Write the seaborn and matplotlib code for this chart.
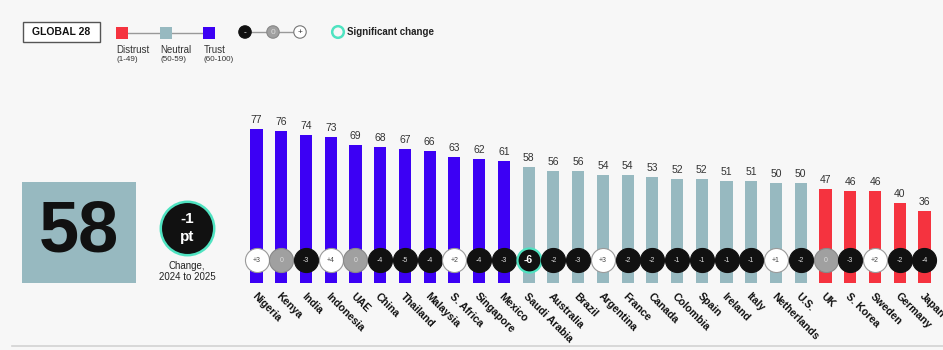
import matplotlib
matplotlib.use("Agg")
import matplotlib.pyplot as plt
from matplotlib.patches import Rectangle
from matplotlib.lines import Line2D
import seaborn as sns
import pandas as pd

countries = ["Nigeria", "Kenya", "India", "Indonesia", "UAE", "China", "Thailand",
             "Malaysia", "S. Africa", "Singapore", "Mexico", "Saudi Arabia", "Australia",
             "Brazil", "Argentina", "France", "Canada", "Colombia", "Spain", "Ireland",
             "Italy", "Netherlands", "U.S.", "UK", "S. Korea", "Sweden", "Germany", "Japan"]
trust = [77, 76, 74, 73, 69, 68, 67, 66, 63, 62, 61, 58, 56, 56, 54, 54, 53, 52, 52,
         51, 51, 50, 50, 47, 46, 46, 40, 36]
change = [3, 0, -3, 4, 0, -4, -5, -4, 2, -4, -3, -6, -2, -3, 3, -2, -2, -1, -1, -1,
          -1, 1, -2, 0, -3, 2, -2, -4]
significant = ["Saudi Arabia"]
global_value = 58
global_change = -1

C_TRUST = "#3c00f4"
C_NEUTRAL = "#97b9c0"
C_DISTRUST = "#f5333f"
C_SIG = "#4fe3c1"
BG = "#f7f7f7"

def category(v):
    if v >= 60:
        return "Trust"
    if v >= 50:
        return "Neutral"
    return "Distrust"

df = pd.DataFrame({"country": countries, "trust": trust, "change": change})
df["cat"] = df["trust"].apply(category)

plt.rcParams["font.family"] = ["Liberation Sans", "DejaVu Sans"]
W, H = 943, 350
fig = plt.figure(figsize=(W / 100, H / 100), dpi=100, facecolor=BG)
ax = fig.add_axes([0, 0, 1, 1])
ax.set_facecolor(BG)

sns.barplot(data=df, x="country", y="trust", hue="cat",
            palette={"Trust": C_TRUST, "Neutral": C_NEUTRAL, "Distrust": C_DISTRUST},
            dodge=False, width=0.49, legend=False, ax=ax, saturation=1, zorder=2)

# pixel mapping: centre of bar i at 256.5 + 24.74*i ; baseline at 283 px, 1.994 px/unit
sp = 24.74
x0 = 256.5
ax.set_xlim(-x0 / sp, (W - x0) / sp)
ppu = 1.994
base = 283
ax.set_ylim(-(H - base) / ppu, base / ppu)
ax.axis("off")

def py(pix):  # pixel y from top -> data y
    return (base - pix) / ppu

def px2x(pix):
    return (pix - x0) / sp

# value labels
for i, v in enumerate(trust):
    ax.text(i, v + 4.6, str(v), ha="center", va="center", fontsize=7.5,
            color="#333333", zorder=4)

# change circles
cy = py(260)
for i, (c, name) in enumerate(zip(change, countries)):
    sig = name in significant
    if c > 0:
        fc, ec, tc, lab = "white", "#9a9a9a", "#444444", f"+{c}"
    elif c == 0:
        fc, ec, tc, lab = "#a0a0a0", "#888888", "#dddddd", "0"
    else:
        fc, ec, tc, lab = "#111111", "#111111", "#dddddd", f"{c}"
    if sig:
        ec = C_SIG
    ax.scatter([i], [cy], s=300, c=fc, edgecolors=ec, linewidths=1.6 if sig else 0.8,
               zorder=5)
    ax.text(i, cy, lab, ha="center", va="center",
            fontsize=7.5 if sig else 5, fontweight="bold" if sig else "normal",
            color="white" if sig else tc, zorder=6)

# rotated country labels
for i, name in enumerate(countries):
    ax.text(i + 0.02, py(291), name, ha="left", va="top", rotation=-45,
            rotation_mode="anchor", fontsize=7.7, fontweight="bold", color="#111111",
            zorder=4, clip_on=False)

# figure-pixel helpers
def fx(px):
    return px / W

def fy(pix):
    return 1 - pix / H

# big global box
fig.add_artist(Rectangle((fx(22), fy(283)), (136 - 22) / W, (283 - 182) / H,
                         transform=fig.transFigure, facecolor=C_NEUTRAL, edgecolor="none"))
fig.text(fx(79), fy(233), str(global_value), ha="center", va="center", fontsize=52,
         fontweight="bold", color="#111111")

# global change circle
ax.scatter([px2x(187)], [py(228)], s=1480, c="#111111", edgecolors=C_SIG,
           linewidths=1.8, zorder=5, clip_on=False)
fig.text(fx(187), fy(219), f"{global_change}", ha="center", va="center", fontsize=11,
         fontweight="bold", color="white", zorder=7)
fig.text(fx(187), fy(237), "pt", ha="center", va="center", fontsize=11,
         fontweight="bold", color="white", zorder=7)
fig.text(fx(187), fy(266), "Change,", ha="center", va="center",
         fontsize=7, color="#222222")
fig.text(fx(187), fy(277.5), "2024 to 2025", ha="center", va="center",
         fontsize=7, color="#222222")

# legend: GLOBAL 28 box
fig.add_artist(Rectangle((fx(23), fy(42)), 77 / W, 20 / H, transform=fig.transFigure,
                         facecolor="white", edgecolor="#555555", linewidth=1))
fig.text(fx(61.5), fy(32), "GLOBAL 28", ha="center", va="center", fontsize=7.5,
         fontweight="bold", color="#111111")

# legend: category squares
fig.add_artist(Line2D([fx(122), fx(209)], [fy(32.5), fy(32.5)], transform=fig.transFigure,
                      color="#999999", linewidth=1, zorder=1))
for cx, col, lab, rng in [(122, C_DISTRUST, "Distrust", "(1-49)"),
                          (166, C_NEUTRAL, "Neutral", "(50-59)"),
                          (209, C_TRUST, "Trust", "(60-100)")]:
    fig.add_artist(Rectangle((fx(cx - 6), fy(38.5)), 12 / W, 12 / H, transform=fig.transFigure,
                             facecolor=col, edgecolor="none", zorder=3))
    fig.text(fx(cx - 5.5), fy(50), lab, ha="left", va="center", fontsize=7, color="#333333")
    fig.text(fx(cx - 5.5), fy(59.5), rng, ha="left", va="center", fontsize=5.8, color="#333333")

# legend: change circles
ax.plot([px2x(245), px2x(300)], [py(32), py(32)], color="#999999", linewidth=1,
        zorder=3, clip_on=False)
ax.scatter([px2x(x) for x in (245, 273, 300)], [py(32)] * 3,
           s=80, c=["#111111", "#a0a0a0", "white"],
           edgecolors=["#111111", "#888888", "#777777"], linewidths=0.8, zorder=6,
           clip_on=False)
for cx, t, tc in [(245, "-", "white"), (273, "0", "#dddddd"), (300, "+", "#333333")]:
    ax.text(px2x(cx), py(32.5), t, ha="center", va="center", fontsize=6, color=tc,
            zorder=7)

# significant change
ax.scatter([px2x(338)], [py(32)], s=70, c="none", edgecolors=C_SIG,
           linewidths=1.8, zorder=6, clip_on=False)
fig.text(fx(347), fy(32), "Significant change", ha="left", va="center", fontsize=7,
         fontweight="bold", color="#222222")

# bottom rule
fig.add_artist(Line2D([fx(12), fx(W)], [fy(346), fy(346)], transform=fig.transFigure,
                      color="#d2d2d2", linewidth=1.2))

fig.savefig("out.png", dpi=100, facecolor=BG)
